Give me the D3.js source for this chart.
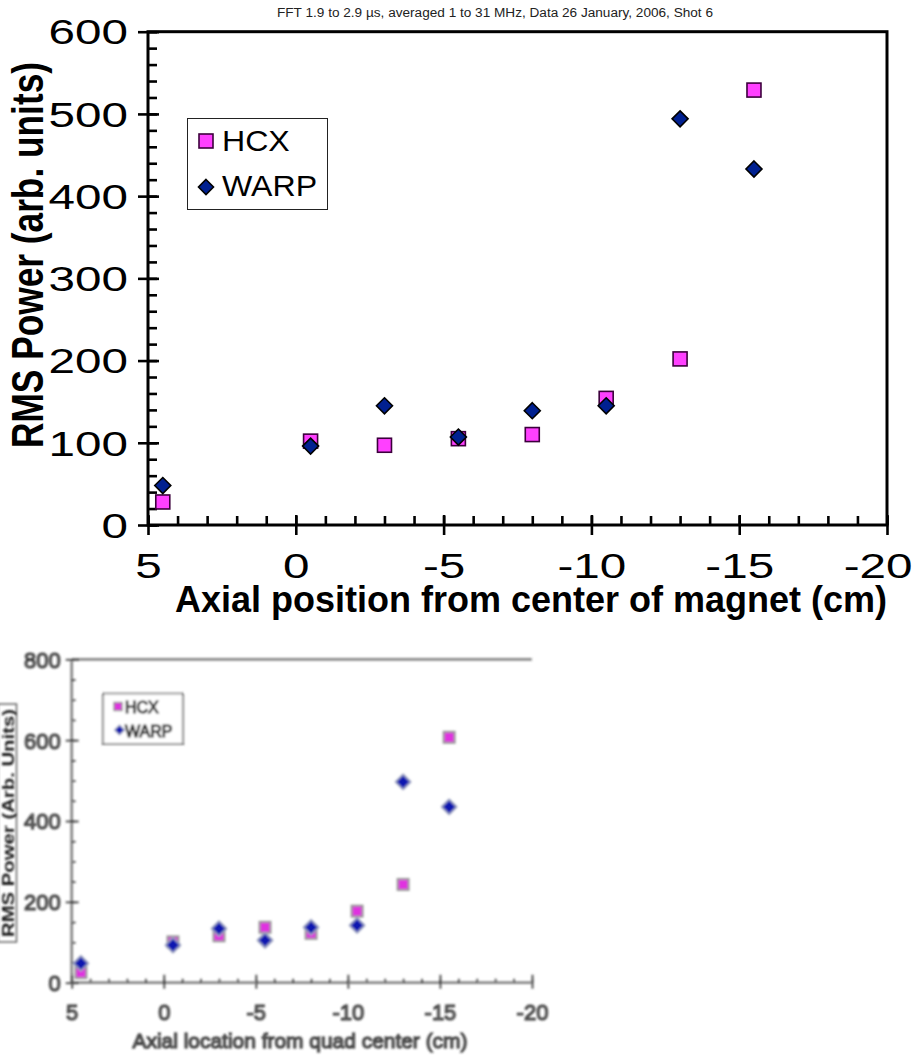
<!DOCTYPE html>
<html>
<head>
<meta charset="utf-8">
<script src="https://cdn.jsdelivr.net/npm/d3@7"></script>
<style>
  html, body { margin: 0; padding: 0; background: #fff; }
  svg { display: block; }
  text { font-family: "Liberation Sans", Arial, Helvetica, sans-serif; }
</style>
</head>
<body>
<svg id="chart" width="918" height="1055"></svg>
<script>
// Axial positions of the probes (cm from centre)
const positions = [4.5, -0.5, -3, -5.5, -8, -10.5, -13, -15.5];

// Upper panel: magnet-centre coordinates
const hcxUpper  = [28, 102, 97, 105, 110, 154, 202, 529];
const warpUpper = [48, 96, 145, 107, 139, 145, 494, 433];

// Lower panel: quad-centre coordinates
const hcxLower  = [25, 101, 116, 137, 122, 177, 243, 607];
const warpLower = [48, 93, 134, 105, 137, 142, 497, 435];

const upperXTicks = [5, 0, -5, -10, -15, -20];
const upperYTicks = [0, 100, 200, 300, 400, 500, 600];
const lowerXTicks = [5, 0, -5, -10, -15, -20];
const lowerYTicks = [0, 200, 400, 600, 800];

const seriesNames = ["HCX", "WARP"];
const titleText = "FFT 1.9 to 2.9 \u00b5s, averaged 1 to 31 MHz, Data 26 January, 2006, Shot 6";

const svg = d3.select("#chart");

const diamond = r => `M0,${-r}L${r},0L0,${r}L${-r},0Z`;
const fmt = d => d3.format("d")(d).replace("\u2212", "-");

// widen a text element by a factor using textLength
function stretch(sel, k) {
  sel.each(function () {
    const w = this.getComputedTextLength();
    d3.select(this).attr("textLength", w * k).attr("lengthAdjust", "spacingAndGlyphs");
  });
}

/* ---------------- Upper panel ---------------- */
(function upper() {
  const L = 148, R = 887, T = 31.7, B = 525;
  const x = d3.scaleLinear().domain([5, -20]).range([L, R]);
  const y = d3.scaleLinear().domain([0, 600]).range([B, T]);
  const g = svg.append("g");

  svg.append("text")
    .attr("x", 495).attr("y", 17)
    .attr("text-anchor", "middle")
    .attr("font-size", 12.5)
    .attr("fill", "#222")
    .attr("textLength", 436).attr("lengthAdjust", "spacingAndGlyphs")
    .text(titleText);

  // minor ticks
  const yMinor = g.append("g").attr("transform", `translate(${L},0)`)
    .call(d3.axisRight(y).tickValues(d3.range(0, 601, 20)).tickSize(9).tickFormat(""));
  const xMinor = g.append("g").attr("transform", `translate(0,${B})`)
    .call(d3.axisTop(x).tickValues(d3.range(5, -20.5, -1)).tickSize(9).tickFormat(""));
  [yMinor, xMinor].forEach(a => {
    a.select(".domain").remove();
    a.selectAll("line").attr("stroke", "#000").attr("stroke-width", 2.6);
  });

  // major ticks and labels
  const yAx = g.append("g").attr("transform", `translate(${L},0)`)
    .call(d3.axisLeft(y).tickValues(upperYTicks).tickSize(10).tickPadding(10));
  yAx.selectAll("line").attr("x2", -10).attr("x1", 11);
  const xAx = g.append("g").attr("transform", `translate(0,${B})`)
    .call(d3.axisBottom(x).tickValues(upperXTicks).tickSize(10).tickPadding(12).tickFormat(fmt));
  xAx.selectAll("line").attr("y1", -10).attr("y2", 10);
  [yAx, xAx].forEach(a => {
    a.select(".domain").remove();
    a.selectAll("line").attr("stroke", "#000").attr("stroke-width", 2.6);
    a.selectAll("text").attr("font-size", 35).attr("fill", "#000")
      .attr("font-family", "'Liberation Sans', Arial, sans-serif");
  });
  yAx.selectAll("text").attr("dy", "0.35em").attr("x", -20);
  xAx.selectAll("text").attr("dy", 0).attr("y", 53);
  stretch(yAx.selectAll("text"), 1.36);
  stretch(xAx.selectAll("text"), 1.36);
  // keep the last x label inside the page
  xAx.selectAll(".tick text").filter(d => d === -20)
    .attr("text-anchor", "end").attr("x", 912 - x(-20));

  // frame
  g.append("rect").attr("x", L).attr("y", T).attr("width", R - L).attr("height", B - T)
    .attr("fill", "none").attr("stroke", "#000").attr("stroke-width", 3);

  // axis titles
  svg.append("text")
    .attr("x", 531).attr("y", 612)
    .attr("text-anchor", "middle").attr("font-weight", "bold").attr("font-size", 36)
    .attr("textLength", 712).attr("lengthAdjust", "spacingAndGlyphs")
    .text("Axial position from center of magnet (cm)");
  svg.append("text")
    .attr("transform", "translate(43,255) scale(1.28,1) rotate(-90)")
    .attr("text-anchor", "middle").attr("font-weight", "bold").attr("font-size", 35)
    .attr("textLength", 386).attr("lengthAdjust", "spacingAndGlyphs")
    .text("RMS Power (arb. units)");

  // markers
  g.selectAll("rect.hcx").data(positions.map((p, i) => [p, hcxUpper[i]])).join("rect")
    .attr("class", "hcx")
    .attr("x", d => x(d[0]) - 7).attr("y", d => y(d[1]) - 7)
    .attr("width", 14).attr("height", 14)
    .attr("fill", "#ff40ff").attr("stroke", "#3c003c").attr("stroke-width", 1.6);
  g.selectAll("path.warp").data(positions.map((p, i) => [p, warpUpper[i]])).join("path")
    .attr("class", "warp")
    .attr("transform", d => `translate(${x(d[0])},${y(d[1])})`)
    .attr("d", diamond(8))
    .attr("fill", "#002090").attr("stroke", "#000").attr("stroke-width", 1.6);

  // legend
  const lg = svg.append("g");
  lg.append("rect").attr("x", 187.5).attr("y", 118.5).attr("width", 140).attr("height", 91)
    .attr("fill", "#fff").attr("stroke", "#222").attr("stroke-width", 1);
  lg.append("rect").attr("x", 199).attr("y", 134).attr("width", 14).attr("height", 14)
    .attr("fill", "#ff40ff").attr("stroke", "#3c003c").attr("stroke-width", 1.6);
  lg.append("path").attr("transform", "translate(206,187)").attr("d", diamond(7.5))
    .attr("fill", "#002090").attr("stroke", "#000").attr("stroke-width", 1.6);
  const lt = lg.selectAll("text.lt").data(seriesNames).join("text")
    .attr("class", "lt")
    .attr("x", 222).attr("y", (d, i) => 151 + i * 45)
    .attr("font-size", 30).attr("fill", "#000")
    .text(d => d);
  stretch(lt, 1.07);
})();

/* ---------------- Lower panel (scanned, soft) ---------------- */
(function lower() {
  const L = 71.7, R = 532, T = 659.3, B = 982.7;
  const x = d3.scaleLinear().domain([5, -20]).range([L, R]);
  const y = d3.scaleLinear().domain([0, 800]).range([B, T]);

  const defs = svg.append("defs");
  defs.append("filter").attr("id", "soft").attr("x", "-5%").attr("y", "-5%")
    .attr("width", "110%").attr("height", "110%")
    .append("feGaussianBlur").attr("stdDeviation", 0.85);

  const g = svg.append("g").attr("filter", "url(#soft)");
  const grey = "#555";
  const ink = "#262626";
  const hollow = s => s.attr("fill", "#8a8a8a").attr("stroke", ink).attr("stroke-width", 1.1);

  // minor ticks
  const yMinor = g.append("g").attr("transform", `translate(${L},0)`)
    .call(d3.axisRight(y).tickValues(d3.range(0, 801, 50)).tickSize(4).tickFormat(""));
  const xMinor = g.append("g").attr("transform", `translate(0,${B})`)
    .call(d3.axisTop(x).tickValues(d3.range(5, -20.5, -1)).tickSize(4).tickFormat(""));
  [yMinor, xMinor].forEach(a => {
    a.select(".domain").remove();
    a.selectAll("line").attr("stroke", grey).attr("stroke-width", 1.8);
  });

  const yAx = g.append("g").attr("transform", `translate(${L},0)`)
    .call(d3.axisLeft(y).tickValues(lowerYTicks).tickSize(6).tickPadding(5));
  yAx.selectAll("line").attr("x1", 7).attr("x2", -6);
  const xAx = g.append("g").attr("transform", `translate(0,${B})`)
    .call(d3.axisBottom(x).tickValues(lowerXTicks).tickSize(6).tickPadding(5).tickFormat(fmt));
  xAx.selectAll("line").attr("y1", -8).attr("y2", 6);
  [yAx, xAx].forEach(a => {
    a.select(".domain").remove();
    a.selectAll("line").attr("stroke", grey).attr("stroke-width", 2);
    a.selectAll("text").attr("font-size", 22)
      .attr("font-family", "'Liberation Sans', Arial, sans-serif").call(hollow);
  });
  yAx.selectAll("text").attr("dy", "0.36em").attr("x", -11);
  xAx.selectAll("text").attr("dy", 0).attr("y", 37);

  // dotted frame
  g.append("path")
    .attr("d", `M${L},${B}H${R}M${L},${B}V${T}H${R}`)
    .attr("fill", "none").attr("stroke", "#505050").attr("stroke-width", 2.8)
    .attr("stroke-dasharray", "2,1");

  // axis titles
  g.append("text")
    .attr("x", 300).attr("y", 1048)
    .attr("text-anchor", "middle").attr("font-size", 20)
    .attr("textLength", 335).attr("lengthAdjust", "spacingAndGlyphs")
    .call(hollow)
    .text("Axial location from quad center (cm)");
  g.append("rect").attr("x", -2).attr("y", 704).attr("width", 18.5).attr("height", 238)
    .attr("fill", "none").attr("stroke", "#666").attr("stroke-width", 1.5);
  g.append("text")
    .attr("transform", "translate(13.5,823) rotate(-90)")
    .attr("text-anchor", "middle").attr("font-size", 16).attr("font-weight", "bold")
    .attr("fill", "#1a1a1a")
    .attr("textLength", 228).attr("lengthAdjust", "spacingAndGlyphs")
    .text("RMS Power (Arb. Units)");

  // markers
  g.selectAll("rect.hcx").data(positions.map((p, i) => [p, hcxLower[i]])).join("rect")
    .attr("class", "hcx")
    .attr("x", d => x(d[0]) - 5.5).attr("y", d => y(d[1]) - 5.5)
    .attr("width", 11).attr("height", 11)
    .attr("fill", "#e030e0").attr("stroke", "#9a9a9a").attr("stroke-width", 2);
  g.selectAll("path.warp").data(positions.map((p, i) => [p, warpLower[i]])).join("path")
    .attr("class", "warp")
    .attr("transform", d => `translate(${x(d[0])},${y(d[1])})`)
    .attr("d", diamond(7.5))
    .attr("fill", "#0a18b0").attr("stroke", "#9aa0c0").attr("stroke-width", 1.8)
    .attr("stroke-linejoin", "round");

  // legend
  g.append("rect").attr("x", 103).attr("y", 693.5).attr("width", 80).attr("height", 50.5)
    .attr("fill", "#fff").attr("stroke", "#505050").attr("stroke-width", 2.2)
    .attr("stroke-dasharray", "2,1");
  g.append("rect").attr("x", 114).attr("y", 702.5).attr("width", 8).attr("height", 8)
    .attr("fill", "#e030e0").attr("stroke", "#8a8a8a").attr("stroke-width", 1.4);
  g.append("path").attr("transform", "translate(119.5,730)").attr("d", diamond(5))
    .attr("fill", "#0a18b0").attr("stroke", "#9aa0c0").attr("stroke-width", 1.2);
  g.selectAll("text.lt").data(seriesNames).join("text")
    .attr("class", "lt")
    .attr("x", 125).attr("y", (d, i) => 713 + i * 23.5)
    .attr("font-size", 16)
    .call(hollow)
    .text(d => d);
})();
</script>
</body>
</html>
